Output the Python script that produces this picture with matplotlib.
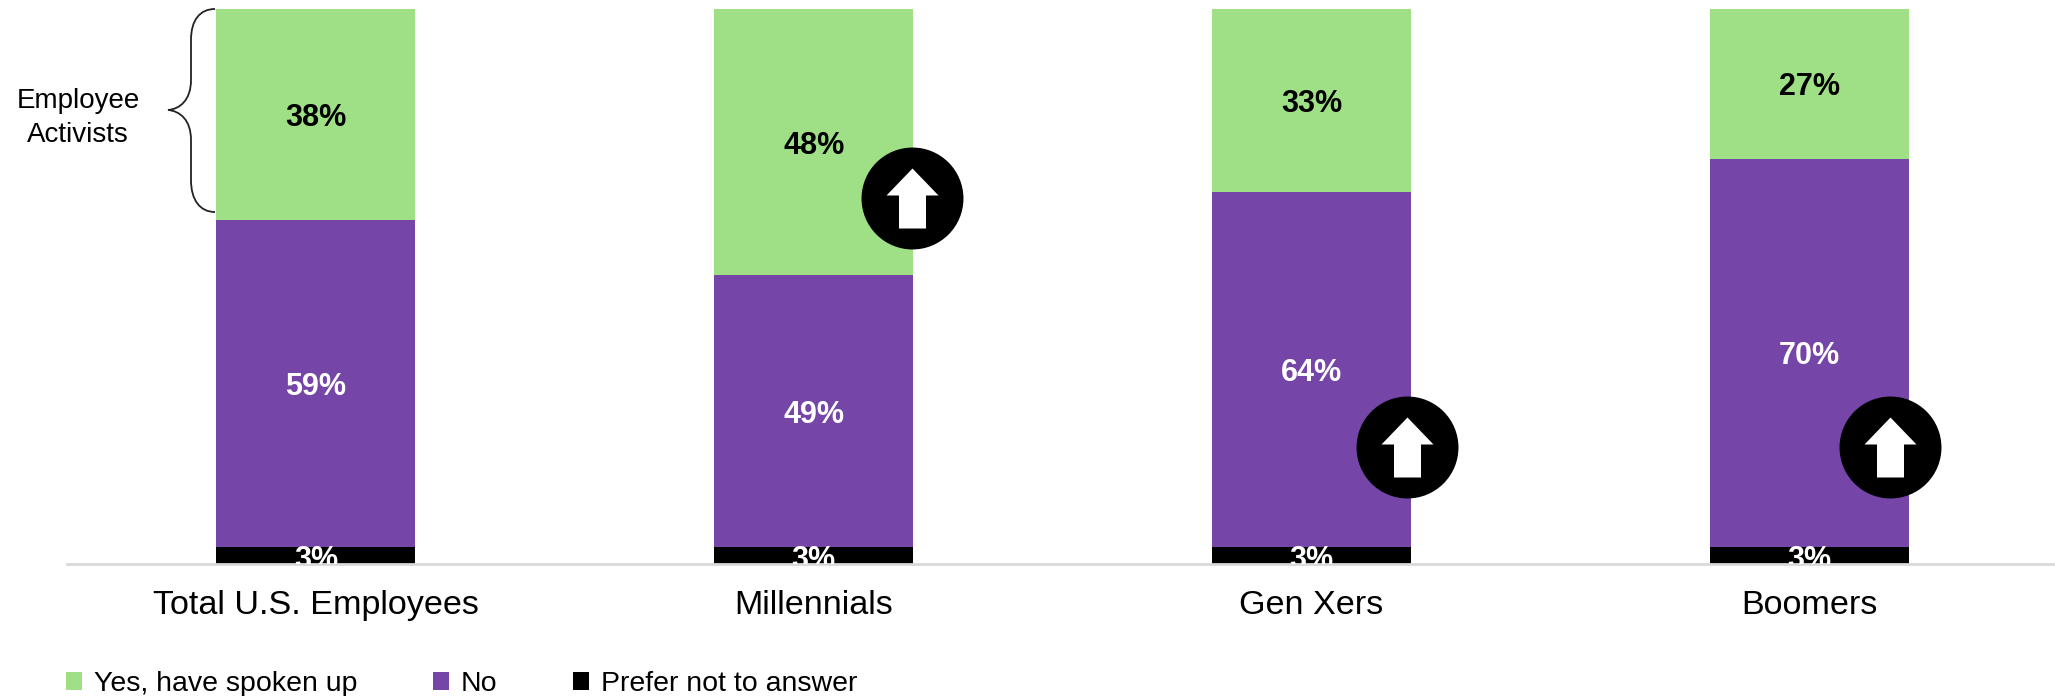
import matplotlib
matplotlib.use("Agg")
import matplotlib.pyplot as plt
from matplotlib.path import Path
from matplotlib.patches import PathPatch
from matplotlib.transforms import IdentityTransform
import numpy as np

plt.rcParams['font.family'] = ['Liberation Sans', 'DejaVu Sans']

groups = ["Total U.S. Employees", "Millennials", "Gen Xers", "Boomers"]
prefer_not = [3, 3, 3, 3]
no_vals = [59, 49, 64, 70]
yes_vals = [38, 48, 33, 27]

series_names = ["Yes, have spoken up", "No", "Prefer not to answer"]
GREEN = "#9FE086"
PURPLE = "#7545A8"
BLACK = "#000000"

W, H = 2055, 696
fig = plt.figure(figsize=(W / 100, H / 100), dpi=100)
# axes box goes from the top of the bars to the baseline
ax = fig.add_axes([67 / W, (H - 564) / H, 1991 / W, 555 / H])

x = np.arange(len(groups))
bar_w = 0.4

# the chart stacks to 100 with black at the bottom
b_black = ax.bar(x, prefer_not, bar_w, color=BLACK, label=series_names[2])
b_no = ax.bar(x, no_vals, bar_w, bottom=prefer_not, color=PURPLE, label=series_names[1])
bottom_yes = np.array(prefer_not) + np.array(no_vals)
b_yes = ax.bar(x, yes_vals, bar_w, bottom=bottom_yes, color=GREEN, label=series_names[0])

ax.set_xlim(-0.5, 3.5)
ax.set_ylim(0, 100)
ax.set_yticks([])
ax.set_xticks(x)
ax.set_xticklabels(groups, fontsize=24.6)
ax.tick_params(axis="x", length=0, pad=19)
for s in ["top", "left", "right"]:
    ax.spines[s].set_visible(False)
ax.spines["bottom"].set_color("#D9D9D9")
ax.spines["bottom"].set_linewidth(2)

# value labels, nudged down a little to line up with the original
for i in range(len(groups)):
    ax.text(x[i], bottom_yes[i] + yes_vals[i] / 2 - 0.6, f"{yes_vals[i]}%", ha="center", va="center",
            fontsize=22, fontweight="bold", color="black")
    ax.text(x[i], prefer_not[i] + no_vals[i] / 2 - 0.6, f"{no_vals[i]}%", ha="center", va="center",
            fontsize=22, fontweight="bold", color="white")
    # this one runs off the baseline in the original, so keep it clipped
    ax.text(x[i], prefer_not[i] / 2 - 0.8, f"{prefer_not[i]}%", ha="center", va="center",
            fontsize=22, fontweight="bold", color="white", clip_on=True)

# up arrow badges, sitting near the right edge of the bars
arrow = Path([(-13.5, -30), (13.5, -30), (13.5, 3), (26, 3), (0, 30), (-26, 3), (-13.5, 3), (-13.5, -30)], closed=True)
badge_x = [1.198, 2.192, 3.162]
badge_y = [66, 21, 21]
ax.scatter(badge_x, badge_y, s=73.4 ** 2, color="black", linewidths=0, zorder=5, clip_on=False)
ax.scatter(badge_x, badge_y, s=43.2 ** 2, marker=arrow, color="white", linewidths=0, zorder=6, clip_on=False)

# curly brace for the employee activists, in pixels from the top left
def px(points):
    return [(a, H - b) for a, b in points]

brace = Path(px([(215, 9), (200, 9), (191, 20), (191, 40),
                 (191, 53), (191, 67), (191, 80),
                 (191, 100), (180, 109), (168, 110),
                 (180, 111), (191, 120), (191, 140),
                 (191, 153), (191, 167), (191, 180),
                 (191, 200), (200, 212), (215, 212)]),
             [Path.MOVETO] + [Path.CURVE4] * 18)
fig.add_artist(PathPatch(brace, fc="none", ec="#222222", lw=1.3, transform=IdentityTransform()))
fig.text(78 / W, (H - 118) / H, "Employee\nActivists", ha="center", va="center", fontsize=20,
         linespacing=1.38)

leg = fig.legend(handles=[b_yes, b_no, b_black], labels=series_names, ncol=3, frameon=False,
                 loc="lower left", bbox_to_anchor=(66 / W, -1 / H), borderpad=0, borderaxespad=0,
                 fontsize=20.5, handlelength=0.56, handleheight=0.56, handletextpad=0.42,
                 columnspacing=2.66)

fig.savefig("out.png", dpi=100)
